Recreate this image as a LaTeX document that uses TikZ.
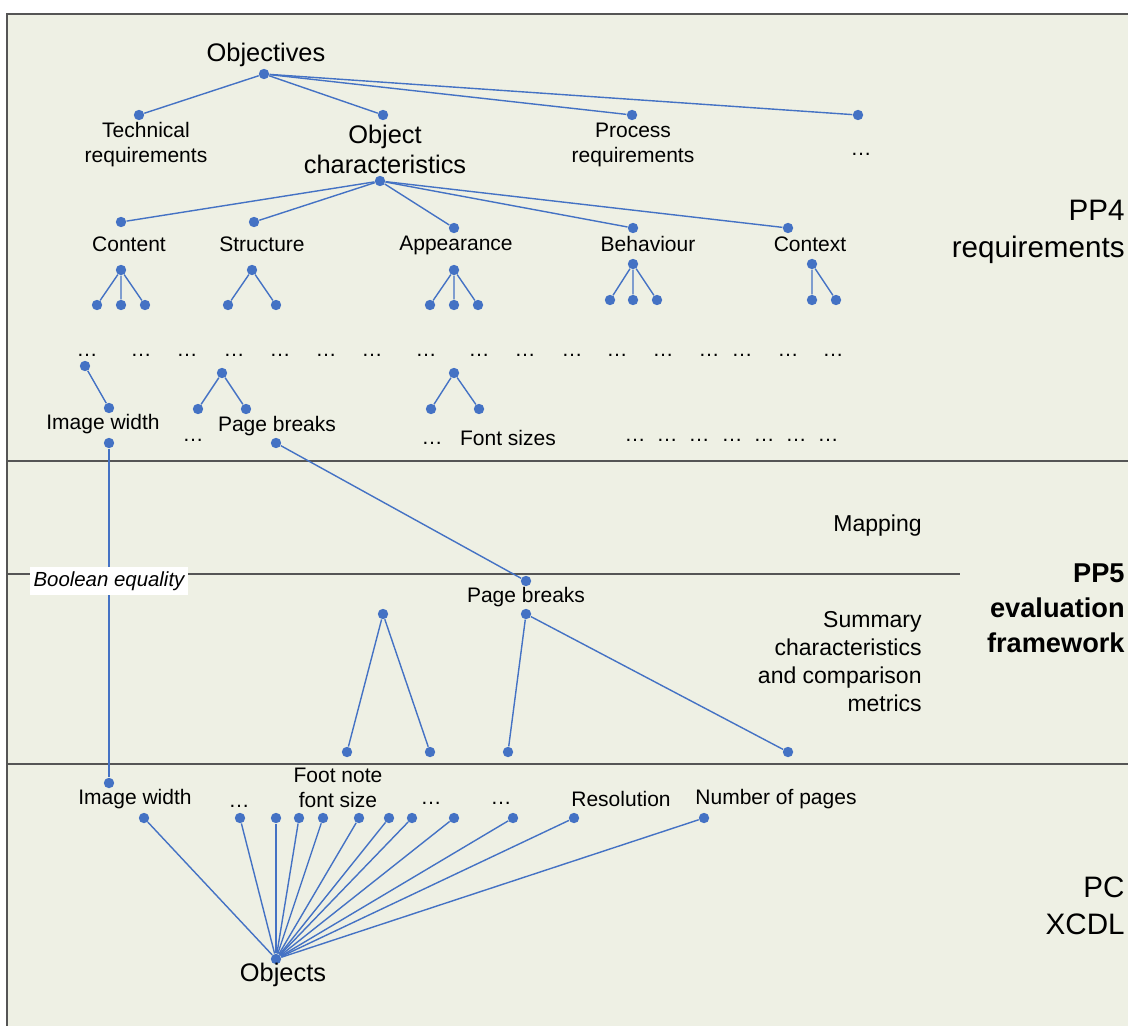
\documentclass[tikz,border=0pt]{standalone}
\usepackage{fontspec}
\setmainfont{Liberation Sans}
\usetikzlibrary{positioning}
\definecolor{lineblue}{HTML}{4472C4}
\definecolor{panel}{HTML}{EEF0E4}
\definecolor{rulegray}{HTML}{555555}

\tikzset{
    vtx/.style = {circle, fill=lineblue, inner sep=0pt, minimum size=5.2pt},
    link/.style = {lineblue, line width=0.7pt},
    sep/.style = {rulegray, line width=1pt},
    lbl/.style = {font=\fontsize{10.5}{12.5}\selectfont, align=center, inner sep=0pt},
    big/.style = {font=\fontsize{12.7}{15}\selectfont, align=center, inner sep=0pt},
    side/.style = {font=\fontsize{11.5}{14}\selectfont, align=right, anchor=east, inner sep=0pt},
    pp/.style = {font=\fontsize{14.8}{18.5}\selectfont, align=right, anchor=east, inner sep=0pt}
}

\begin{document}
\begin{tikzpicture}[x=0.5pt, y=-0.5pt]
    \useasboundingbox (0,0) rectangle (1128,1026);
    \clip (0,0) rectangle (1128,1026);
    % panel and separators
    \fill[panel] (7,14) rectangle (1160,1060);
    \draw[sep] (7,1060) -- (7,14) -- (1160,14);
    \draw[sep] (7,461) -- (1160,461);
    \draw[sep] (7,574) -- (960,574);
    \draw[sep] (7,764) -- (1160,764);

    % side titles
    \node[pp] (pp4) at (1125,232) {PP4\\requirements};
    \node[pp, font=\fontsize{13.6}{17.5}\selectfont\bfseries] (pp5) at (1125,608) {PP5\\evaluation\\framework};
    \node[pp] (pc) at (1125,906) {PC\\XCDL};
    \node[side] (mapping) at (922,526) {Mapping};
    \node[side] (summary) at (922,662) {Summary\\characteristics\\and comparison\\metrics};

    % objectives
    \node[big] (objectives) at (266,55) {Objectives};
    \node[vtx] (o0) at (264,74) {};
    \node[vtx] (o1) at (139,115) {};
    \node[vtx] (o2) at (383,115) {};
    \node[vtx] (o3) at (632,115) {};
    \node[vtx] (o4) at (858,115) {};
    \foreach \i in {1,...,4} \draw[link] (o0) -- (o\i);
    \node[lbl] (technical) at (146,145) {Technical\\requirements};
    \node[big] (objchar) at (385,149) {Object\\characteristics};
    \node[lbl] (process) at (633,145) {Process\\requirements};
    \node[lbl] (moreobj) at (861,154) {…};

    % object characteristics
    \node[vtx] (c0) at (380,181) {};
    \node[vtx] (c1) at (121,222) {};
    \node[vtx] (c2) at (254,222) {};
    \node[vtx] (c3) at (454,228) {};
    \node[vtx] (c4) at (633,228) {};
    \node[vtx] (c5) at (788,228) {};
    \foreach \i in {1,...,5} \draw[link] (c0) -- (c\i);
    \node[lbl] (content) at (129,244) {Content};
    \node[lbl] (structure) at (262,244) {Structure};
    \node[lbl] (appearance) at (456,245) {Appearance};
    \node[lbl] (behaviour) at (648,244) {Behaviour};
    \node[lbl] (context) at (810,244) {Context};

    % small sub trees
    \node[vtx] (ct) at (121,270) {};
    \node[vtx] (ct1) at (97,305) {};
    \node[vtx] (ct2) at (121,305) {};
    \node[vtx] (ct3) at (145,305) {};
    \draw[link] (ct1) -- (ct) -- (ct3) (ct) -- (ct2);
    \node[vtx] (st) at (252,270) {};
    \node[vtx] (st1) at (228,305) {};
    \node[vtx] (st2) at (276,305) {};
    \draw[link] (st1) -- (st) -- (st2);
    \node[vtx] (ap) at (454,270) {};
    \node[vtx] (ap1) at (430,305) {};
    \node[vtx] (ap2) at (454,305) {};
    \node[vtx] (ap3) at (478,305) {};
    \draw[link] (ap1) -- (ap) -- (ap3) (ap) -- (ap2);
    \node[vtx] (bh) at (633,264) {};
    \node[vtx] (bh1) at (610,300) {};
    \node[vtx] (bh2) at (633,300) {};
    \node[vtx] (bh3) at (657,300) {};
    \draw[link] (bh1) -- (bh) -- (bh3) (bh) -- (bh2);
    \node[vtx] (cx) at (812,264) {};
    \node[vtx] (cx1) at (812,300) {};
    \node[vtx] (cx2) at (836,300) {};
    \draw[link] (cx1) -- (cx) -- (cx2);

    % rows of ellipses
    \foreach \x [count=\n] in {87,141,187,234,280,326,372,426,479,525,572,617,663,709,742,788,833}
        \node[lbl] (dots\n) at (\x,355) {…};
    \foreach \x [count=\n] in {635,667,699,732,764,796,828}
        \node[lbl] (tail\n) at (\x,440) {…};

    % leaves
    \node[vtx] (iw0) at (85,366) {};
    \node[vtx] (iw1) at (109,408) {};
    \draw[link] (iw0) -- (iw1);
    \node[lbl] (imgwidth) at (103,424) {Image width};
    \node[vtx] (iw) at (109,443) {};
    \node[vtx] (pg) at (222,373) {};
    \node[vtx] (pg1) at (198,409) {};
    \node[vtx] (pg2) at (246,409) {};
    \draw[link] (pg1) -- (pg) -- (pg2);
    \node[lbl] (pgdots) at (193,440) {…};
    \node[lbl] (pagebreaks) at (277,426) {Page breaks};
    \node[vtx] (pb) at (276,443) {};
    \node[vtx] (fs) at (454,373) {};
    \node[vtx] (fs1) at (431,409) {};
    \node[vtx] (fs2) at (479,409) {};
    \draw[link] (fs1) -- (fs) -- (fs2);
    \node[lbl] (fsdots) at (432,443) {…};
    \node[lbl] (fontsizes) at (508,438) {Font sizes};

    % evaluation framework
    \node[vtx] (pbm) at (526,581) {};
    \node[lbl] (pbmlabel) at (526,597) {Page breaks};
    \node[vtx] (pbt) at (526,614) {};
    \node[vtx] (pbt1) at (508,752) {};
    \node[vtx] (pbt2) at (788,752) {};
    \draw[link] (pbt1) -- (pbt) -- (pbt2);
    \node[vtx] (ft) at (383,614) {};
    \node[vtx] (ft1) at (347,752) {};
    \node[vtx] (ft2) at (430,752) {};
    \draw[link] (ft1) -- (ft) -- (ft2);
    \draw[link] (pb) -- (pbm);

    % XCDL properties
    \node[vtx] (iwb) at (109,783) {};
    \draw[link] (iw) -- (iwb);
    \node[lbl, fill=white, inner xsep=2pt, inner ysep=2.2pt, font=\fontsize{10.2}{12}\selectfont\itshape] (booleq) at (109,581) {Boolean equality};
    \node[lbl] (imgwidthb) at (135,799) {Image width};
    \node[lbl] (pdots1) at (239,806) {…};
    \node[lbl] (footnote) at (338,788) {Foot note\\font size};
    \node[lbl] (pdots2) at (431,803) {…};
    \node[lbl] (pdots3) at (501,803) {…};
    \node[lbl] (resolution) at (621,799) {Resolution};
    \node[lbl] (numpages) at (776,799) {Number of pages};
    \node[vtx] (objects) at (276,959) {};
    \node[big] (objlabel) at (283,975) {Objects};
    \foreach \x [count=\n] in {144,240,276,299,323,359,389,412,454,513,574,704} {
        \node[vtx] (p\n) at (\x,818) {};
        \draw[link] (objects) -- (p\n);
    }
\end{tikzpicture}
\end{document}
